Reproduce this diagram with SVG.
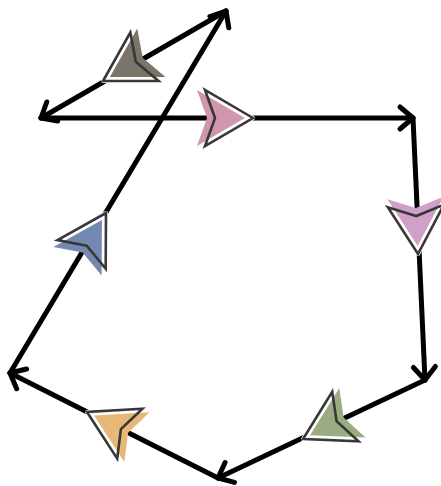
<svg xmlns="http://www.w3.org/2000/svg" xmlns:xlink="http://www.w3.org/1999/xlink" width="441" height="486" viewBox="0 0 441 486">
<style>
.edge{stroke:#000;stroke-width:5;fill:none;stroke-linecap:round;stroke-linejoin:round;marker-end:url(#chev)}
.halo{fill:#fff;stroke:#fff;stroke-width:4;stroke-linejoin:round}
.outl{fill:none;stroke:#383838;stroke-width:2.6;stroke-linejoin:miter}
</style>
<defs>
<marker id="chev" markerUnits="userSpaceOnUse" viewBox="-20 -20 30 40" refX="0" refY="0" markerWidth="30" markerHeight="40" orient="auto" overflow="visible">
<path d="M-13,-11 L0,0 L-13,11" fill="none" stroke="#000" stroke-width="5" stroke-linecap="round" stroke-linejoin="round"/>
</marker>
<path id="ah" d="M0,0 L-48,-28 L-38,0 L-48,28 Z"/>
</defs>
<rect width="441" height="486" fill="#fff"/>
<g id="connectors">
<line class="edge" x1="41" y1="118" x2="413" y2="118"/>
<line class="edge" x1="413" y1="118" x2="425" y2="380"/>
<line class="edge" x1="425" y1="380" x2="218" y2="478"/>
<line class="edge" x1="218" y1="478" x2="10" y2="373"/>
<line class="edge" x1="10" y1="373" x2="226" y2="11"/>
<line class="edge" x1="226" y1="11" x2="41" y2="118"/>
</g>
<g id="arrow-pink" transform="translate(253,118) rotate(0)">
<use xlink:href="#ah" class="halo"/>
<use xlink:href="#ah" transform="translate(-8,0)" fill="#d195ae"/>
<use xlink:href="#ah" class="outl"/>
</g>
<g id="arrow-lilac" transform="translate(418,254) rotate(87.4)">
<use xlink:href="#ah" class="halo"/>
<use xlink:href="#ah" transform="translate(-8,0)" fill="#cfa0c8"/>
<use xlink:href="#ah" class="outl"/>
</g>
<g id="arrow-green" transform="translate(303,439) rotate(152)">
<use xlink:href="#ah" class="halo"/>
<use xlink:href="#ah" transform="translate(-8,0)" fill="#9aac82"/>
<use xlink:href="#ah" class="outl"/>
</g>
<g id="arrow-orange" transform="translate(87,412) rotate(-153.2)">
<use xlink:href="#ah" class="halo"/>
<use xlink:href="#ah" transform="translate(-8,0)" fill="#e8b878"/>
<use xlink:href="#ah" class="outl"/>
</g>
<g id="arrow-blue" transform="translate(106,213) rotate(-59.4)">
<use xlink:href="#ah" class="halo"/>
<use xlink:href="#ah" transform="translate(-8,0)" fill="#7489b1"/>
<use xlink:href="#ah" class="outl"/>
</g>
<g id="arrow-gray" transform="translate(103,81) rotate(149.7)">
<use xlink:href="#ah" class="halo"/>
<use xlink:href="#ah" transform="translate(-8,0)" fill="#7b7468"/>
<use xlink:href="#ah" class="outl"/>
</g>
</svg>
